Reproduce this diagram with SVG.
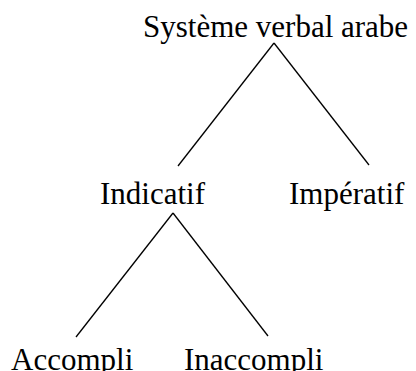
<svg xmlns="http://www.w3.org/2000/svg" width="416" height="371" viewBox="0 0 416 371">
<style>
text{font-family:"Liberation Serif","Times New Roman",serif;font-size:31px;fill:#000}
.e{stroke:#000;stroke-width:1.3;fill:none}
</style>
<rect width="416" height="371" fill="#fff"/>
<g id="connectors">
<line class="e" x1="274" y1="43" x2="178" y2="166"/>
<line class="e" x1="274" y1="43" x2="369" y2="165"/>
<line class="e" x1="173" y1="213" x2="76" y2="337"/>
<line class="e" x1="173" y1="213" x2="268" y2="336"/>
</g>
<g id="root"><text x="143" y="37">Système verbal arabe</text></g>
<g id="indicatif"><text x="100" y="204">Indicatif</text></g>
<g id="imperatif"><text x="289" y="204">Impératif</text></g>
<g id="accompli"><text x="11" y="369.5">Accompli</text></g>
<g id="inaccompli"><text x="184" y="369.5">Inaccompli</text></g>
</svg>
